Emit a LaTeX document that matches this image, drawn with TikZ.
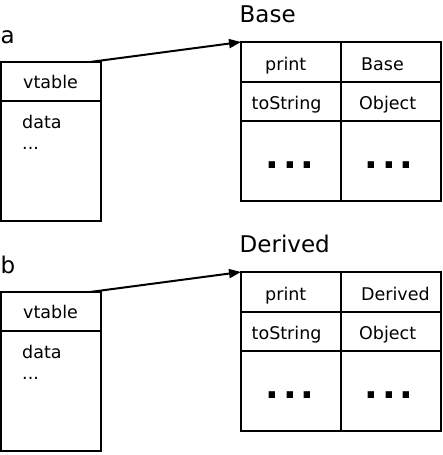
\documentclass[tikz,border=0pt]{standalone}
\usepackage{fontspec}
\setmainfont{DejaVu Sans}
\usetikzlibrary{arrows.meta,positioning}
\tikzset{
    %Define style for the object boxes
    objbox/.style={
           rectangle,
           draw=black, line width=2pt,
           outer sep=0pt,
           minimum width=100pt,
           minimum height=159pt},
    %Define style for the vtable boxes
    tabbox/.style={
           rectangle,
           draw=black, line width=2pt,
           outer sep=0pt,
           minimum width=200pt,
           minimum height=159pt},
    % texts
    title/.style={anchor=base west, inner sep=0pt, font=\fontsize{23}{27}\selectfont},
    entry/.style={anchor=base west, inner sep=0pt, font=\fontsize{17.5}{21}\selectfont},
    dots/.style={inner sep=0pt, font=\fontsize{36}{40}\selectfont\bfseries},
    % Define arrow style
    pil/.style={
           -{Triangle[length=12pt,width=9pt]},
           line width=2pt}
}
\begin{document}
\begin{tikzpicture}[x=1pt,y=-1pt]
\useasboundingbox (0,0) rectangle (443,455);
 %boxes
\node[objbox] (obja) at (51,141.5) {};
\node[objbox, below=71pt of obja] (objb) {};
\node[tabbox] (basetab) at (341,121.5) {};
\node[tabbox, below=71pt of basetab] (dertab) {};

 %dividers
\foreach \o in {obja,objb}
    \draw[line width=2pt] ([yshift=-39pt]\o.north west) -- ([yshift=-39pt]\o.north east);
\foreach \t in {basetab,dertab}{
    \draw[line width=2pt] (\t.north) -- (\t.south);
    \draw[line width=2pt] ([yshift=-40pt]\t.north west) -- ([yshift=-40pt]\t.north east);
    \draw[line width=2pt] ([yshift=-79pt]\t.north west) -- ([yshift=-79pt]\t.north east);
}

 %object a
\node[title] (labela) at (0.5,43) {a};
\node[entry] (vta) at (23,88) {vtable};
\node[entry] (dataa) at (22,128) {data};
\node[entry] (mora) at (22,149) {...};
 %object b
\node[title] (labelb) at (0.5,273) {b};
\node[entry] (vtb) at (23,318) {vtable};
\node[entry] (datab) at (22,358) {data};
\node[entry] (morb) at (22,379) {...};

 %table Base
\node[title] (labelbase) at (239.5,22) {Base};
\node[entry] (printa) at (265,70) {print};
\node[entry] (impla) at (361,70) {Base};
\node[entry] (tostra) at (251.5,109) {toString};
\node[entry] (objecta) at (359,109) {Object};
\node[dots] (dotsal) at (290,165) {.\kern3.5pt.\kern3.5pt.};
\node[dots] (dotsar) at (389,165) {.\kern3.5pt.\kern3.5pt.};
 %table Derived
\node[title] (labelder) at (239.5,252) {Derived};
\node[entry] (printb) at (265,300) {print};
\node[entry] (implb) at (361,300) {Derived};
\node[entry] (tostrb) at (251.5,339) {toString};
\node[entry] (objectb) at (359,339) {Object};
\node[dots] (dotsbl) at (290,395) {.\kern3.5pt.\kern3.5pt.};
\node[dots] (dotsbr) at (389,395) {.\kern3.5pt.\kern3.5pt.};

 %pointers
\draw[pil] ([xshift=-11pt]obja.north east) -- (basetab.north west);
\draw[pil] ([xshift=-11pt]objb.north east) -- (dertab.north west);
\end{tikzpicture}
\end{document}
